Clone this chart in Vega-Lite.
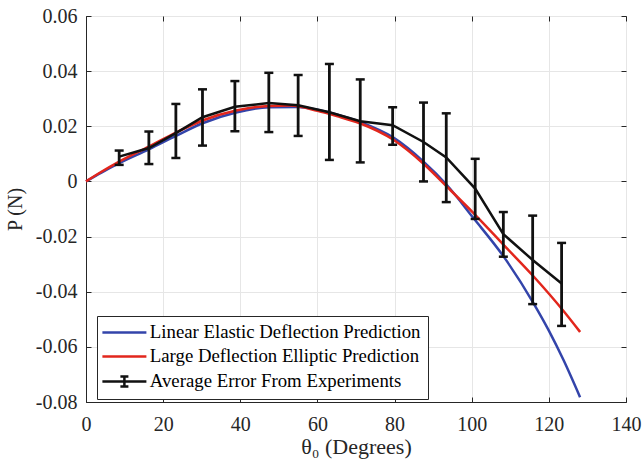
{
  "$schema": "https://vega.github.io/schema/vega-lite/v6.json",
  "width": 540,
  "height": 386,
  "autosize": "none",
  "padding": {"left": 86, "top": 16, "right": 16, "bottom": 65},
  "background": "white",
  "config": {
    "view": {"stroke": "#262626", "strokeWidth": 1},
    "font": "Liberation Serif"
  },
  "datasets": {
    "curves": [
      {"series": "Linear Elastic Deflection Prediction", "theta": 0, "P": 0},
      {"series": "Linear Elastic Deflection Prediction", "theta": 4, "P": 0.0032},
      {"series": "Linear Elastic Deflection Prediction", "theta": 8.6, "P": 0.0066},
      {"series": "Linear Elastic Deflection Prediction", "theta": 16.4, "P": 0.0117},
      {"series": "Linear Elastic Deflection Prediction", "theta": 23.3, "P": 0.0165},
      {"series": "Linear Elastic Deflection Prediction", "theta": 30.2, "P": 0.0211},
      {"series": "Linear Elastic Deflection Prediction", "theta": 38.9, "P": 0.025},
      {"series": "Linear Elastic Deflection Prediction", "theta": 47.5, "P": 0.0269},
      {"series": "Linear Elastic Deflection Prediction", "theta": 55, "P": 0.027},
      {"series": "Linear Elastic Deflection Prediction", "theta": 60, "P": 0.026},
      {"series": "Linear Elastic Deflection Prediction", "theta": 65, "P": 0.0243},
      {"series": "Linear Elastic Deflection Prediction", "theta": 71, "P": 0.0216},
      {"series": "Linear Elastic Deflection Prediction", "theta": 79.7, "P": 0.0159},
      {"series": "Linear Elastic Deflection Prediction", "theta": 87.5, "P": 0.0072},
      {"series": "Linear Elastic Deflection Prediction", "theta": 93.5, "P": -0.0012},
      {"series": "Linear Elastic Deflection Prediction", "theta": 100.4, "P": -0.0132},
      {"series": "Linear Elastic Deflection Prediction", "theta": 108.2, "P": -0.0271},
      {"series": "Linear Elastic Deflection Prediction", "theta": 116, "P": -0.0441},
      {"series": "Linear Elastic Deflection Prediction", "theta": 120, "P": -0.0541},
      {"series": "Linear Elastic Deflection Prediction", "theta": 123.8, "P": -0.0648},
      {"series": "Linear Elastic Deflection Prediction", "theta": 128.1, "P": -0.0783},
      {"series": "Large Deflection Elliptic Prediction", "theta": 0, "P": 0},
      {"series": "Large Deflection Elliptic Prediction", "theta": 4, "P": 0.0035},
      {"series": "Large Deflection Elliptic Prediction", "theta": 8.6, "P": 0.0072},
      {"series": "Large Deflection Elliptic Prediction", "theta": 16.4, "P": 0.0127},
      {"series": "Large Deflection Elliptic Prediction", "theta": 23.3, "P": 0.0177},
      {"series": "Large Deflection Elliptic Prediction", "theta": 30.2, "P": 0.0221},
      {"series": "Large Deflection Elliptic Prediction", "theta": 38.9, "P": 0.0257},
      {"series": "Large Deflection Elliptic Prediction", "theta": 47.5, "P": 0.0274},
      {"series": "Large Deflection Elliptic Prediction", "theta": 53, "P": 0.0275},
      {"series": "Large Deflection Elliptic Prediction", "theta": 60, "P": 0.0256},
      {"series": "Large Deflection Elliptic Prediction", "theta": 65, "P": 0.0237},
      {"series": "Large Deflection Elliptic Prediction", "theta": 71, "P": 0.0211},
      {"series": "Large Deflection Elliptic Prediction", "theta": 79.7, "P": 0.0151},
      {"series": "Large Deflection Elliptic Prediction", "theta": 87.5, "P": 0.0064},
      {"series": "Large Deflection Elliptic Prediction", "theta": 93.5, "P": -0.0018},
      {"series": "Large Deflection Elliptic Prediction", "theta": 100.4, "P": -0.0114},
      {"series": "Large Deflection Elliptic Prediction", "theta": 108.2, "P": -0.0229},
      {"series": "Large Deflection Elliptic Prediction", "theta": 116, "P": -0.0344},
      {"series": "Large Deflection Elliptic Prediction", "theta": 123.8, "P": -0.047},
      {"series": "Large Deflection Elliptic Prediction", "theta": 128.1, "P": -0.0546}
    ],
    "exp": [
      {"series": "Average Error From Experiments", "theta": 8.6, "P": 0.009, "lo": 0.006, "hi": 0.0112},
      {"series": "Average Error From Experiments", "theta": 16.3, "P": 0.0121, "lo": 0.0063, "hi": 0.0181},
      {"series": "Average Error From Experiments", "theta": 23.3, "P": 0.0175, "lo": 0.0085, "hi": 0.0281},
      {"series": "Average Error From Experiments", "theta": 30.2, "P": 0.0233, "lo": 0.013, "hi": 0.0334},
      {"series": "Average Error From Experiments", "theta": 38.6, "P": 0.0271, "lo": 0.0182, "hi": 0.0364},
      {"series": "Average Error From Experiments", "theta": 47.4, "P": 0.0284, "lo": 0.0179, "hi": 0.0394},
      {"series": "Average Error From Experiments", "theta": 55, "P": 0.0276, "lo": 0.0165, "hi": 0.0386},
      {"series": "Average Error From Experiments", "theta": 63.1, "P": 0.0251, "lo": 0.0078, "hi": 0.0426},
      {"series": "Average Error From Experiments", "theta": 71.1, "P": 0.0218, "lo": 0.0069, "hi": 0.037},
      {"series": "Average Error From Experiments", "theta": 79.5, "P": 0.0204, "lo": 0.0133, "hi": 0.0269},
      {"series": "Average Error From Experiments", "theta": 87.5, "P": 0.0143, "lo": 0.0, "hi": 0.0286},
      {"series": "Average Error From Experiments", "theta": 93.4, "P": 0.0087, "lo": -0.0075, "hi": 0.0247},
      {"series": "Average Error From Experiments", "theta": 100.9, "P": -0.0026, "lo": -0.0136, "hi": 0.0082},
      {"series": "Average Error From Experiments", "theta": 108.2, "P": -0.0191, "lo": -0.0273, "hi": -0.0111},
      {"series": "Average Error From Experiments", "theta": 115.8, "P": -0.0285, "lo": -0.0445, "hi": -0.0124},
      {"series": "Average Error From Experiments", "theta": 123.3, "P": -0.037, "lo": -0.0524, "hi": -0.0223}
    ]
  },
  "layer": [
    {
      "data": {"name": "curves"},
      "mark": {"type": "line", "strokeWidth": 2.5, "interpolate": "monotone"},
      "encoding": {
        "x": {
          "field": "theta", "type": "quantitative",
          "scale": {"domain": [0, 140], "nice": false, "zero": false},
          "axis": {
            "orient": "bottom",
            "values": [0, 20, 40, 60, 80, 100, 120, 140],
            "grid": true, "gridColor": "#e6e6e6", "gridWidth": 1,
            "domainColor": "#262626", "tickColor": "#262626", "tickSize": -5,
            "labelFont": "Liberation Serif", "labelFontSize": 20, "labelColor": "#262626",
            "labelPadding": 17, "labelFlush": false, "labelOverlap": false,
            "title": "θ₀ (Degrees)", "titleFont": "Liberation Serif", "titleFontSize": 22,
            "titleFontWeight": "normal", "titleColor": "#262626", "titlePadding": 2
          }
        },
        "y": {
          "field": "P", "type": "quantitative",
          "scale": {"domain": [-0.08, 0.06], "nice": false, "zero": false},
          "axis": {
            "orient": "left",
            "values": [-0.08, -0.06, -0.04, -0.02, 0, 0.02, 0.04, 0.06],
            "labelExpr": "datum.value == 0 ? '0' : replace(format(datum.value, '.2f'), '−', '-')",
            "grid": true, "gridColor": "#e6e6e6", "gridWidth": 1,
            "domainColor": "#262626", "tickColor": "#262626", "tickSize": -5,
            "labelFont": "Liberation Serif", "labelFontSize": 20, "labelColor": "#262626",
            "labelPadding": 14, "labelFlush": false, "labelOverlap": false,
            "title": "P (N)", "titleFont": "Liberation Serif", "titleFontSize": 20,
            "titleFontWeight": "normal", "titleColor": "#262626", "titlePadding": 10
          }
        },
        "color": {
          "field": "series", "type": "nominal",
          "scale": {
            "domain": ["Linear Elastic Deflection Prediction", "Large Deflection Elliptic Prediction", "Average Error From Experiments"],
            "range": ["#3344aa", "#e2261c", "#111111"]
          },
          "legend": {
            "title": null, "orient": "none", "legendX": 11, "legendY": 300,
            "labelFont": "Liberation Serif", "labelFontSize": 18.8, "labelColor": "#000000",
            "labelLimit": 0, "labelOffset": 16, "symbolOffset": 11,
            "symbolSize": 100, "symbolStrokeWidth": 2.5,
            "strokeColor": "#262626", "fillColor": "#ffffff", "padding": 7, "rowPadding": 4
          }
        }
      }
    },
    {
      "data": {"name": "exp"},
      "mark": {"type": "line", "strokeWidth": 2.5},
      "encoding": {
        "x": {"field": "theta", "type": "quantitative", "axis": null},
        "y": {"field": "P", "type": "quantitative", "axis": null},
        "color": {"field": "series", "type": "nominal"}
      }
    },
    {
      "data": {"name": "exp"},
      "mark": {"type": "rule", "strokeWidth": 2.8, "color": "#111111"},
      "encoding": {
        "x": {"field": "theta", "type": "quantitative", "axis": null},
        "y": {"field": "lo", "type": "quantitative", "axis": null},
        "y2": {"field": "hi"}
      }
    },
    {
      "data": {"name": "exp"},
      "mark": {"type": "tick", "orient": "horizontal", "size": 9, "thickness": 2.5, "color": "#111111", "opacity": 1},
      "encoding": {
        "x": {"field": "theta", "type": "quantitative", "axis": null},
        "y": {"field": "hi", "type": "quantitative", "axis": null}
      }
    },
    {
      "data": {"name": "exp"},
      "mark": {"type": "tick", "orient": "horizontal", "size": 9, "thickness": 2.5, "color": "#111111", "opacity": 1},
      "encoding": {
        "x": {"field": "theta", "type": "quantitative", "axis": null},
        "y": {"field": "lo", "type": "quantitative", "axis": null}
      }
    },
    {
      "data": {"name": "exp"},
      "transform": [{"filter": "false"}],
      "mark": {"type": "point", "filled": false, "opacity": 1, "strokeWidth": 2.5},
      "encoding": {
        "x": {
          "field": "theta", "type": "quantitative",
          "axis": {"orient": "top", "values": [0, 20, 40, 60, 80, 100, 120, 140], "labels": false, "title": null, "grid": false, "domain": false, "tickSize": -5, "tickColor": "#262626"}
        },
        "y": {
          "field": "P", "type": "quantitative",
          "axis": {"orient": "right", "values": [-0.08, -0.06, -0.04, -0.02, 0, 0.02, 0.04, 0.06], "labels": false, "title": null, "grid": false, "domain": false, "tickSize": -5, "tickColor": "#262626"}
        },
        "color": {"field": "series", "type": "nominal"},
        "shape": {
          "field": "series", "type": "nominal",
          "scale": {
            "domain": ["Linear Elastic Deflection Prediction", "Large Deflection Elliptic Prediction", "Average Error From Experiments"],
            "range": ["M-4.4,0H4.4", "M-4.4,0H4.4", "M-4.4,0H4.4M0,-1V1M-0.8,-1H0.8M-0.8,1H0.8"]
          },
          "legend": {
            "title": null, "orient": "none", "legendX": 11, "legendY": 300,
            "labelFont": "Liberation Serif", "labelFontSize": 18.8, "labelColor": "#000000",
            "labelLimit": 0, "labelOffset": 16, "symbolOffset": 11,
            "symbolSize": 100, "symbolStrokeWidth": 2.5,
            "strokeColor": "#262626", "fillColor": "#ffffff", "padding": 7, "rowPadding": 4
          }
        }
      }
    }
  ]
}
